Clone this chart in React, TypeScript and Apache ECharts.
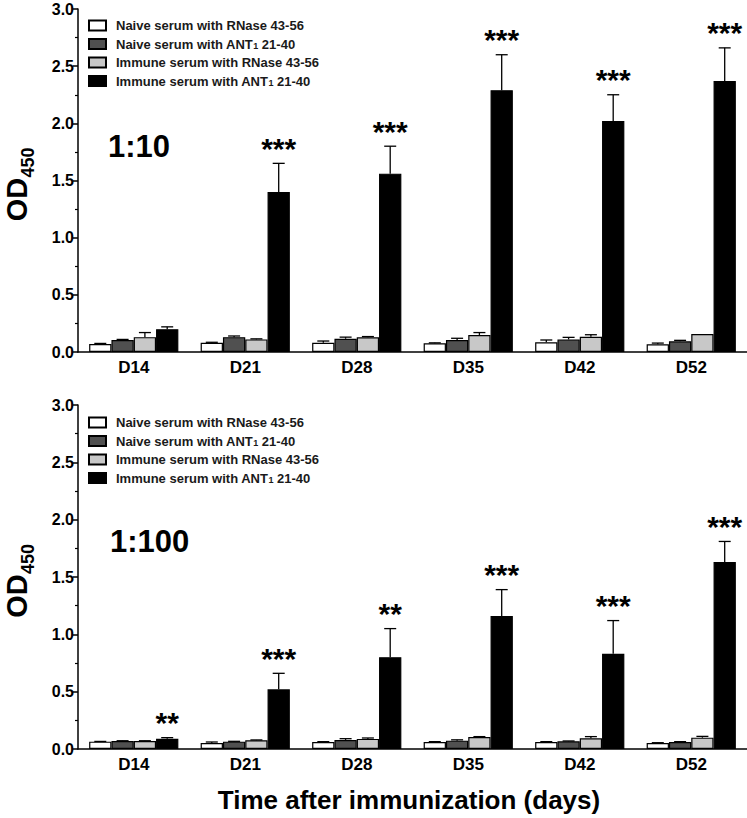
import React, { useEffect, useRef } from "react";
import * as echarts from "echarts";

const categories = ["D14", "D21", "D28", "D35", "D42", "D52"];
const seriesNames = [
  "Naive serum with RNase 43-56",
  "Naive serum with ANT1 21-40",
  "Immune serum with RNase 43-56",
  "Immune serum with ANT1 21-40",
];
const legendLabels = [
  "Naive serum with RNase 43-56",
  "Naive serum with ANT{sub|1} 21-40",
  "Immune serum with RNase 43-56",
  "Immune serum with ANT{sub|1} 21-40",
];
const barColors = ["#ffffff", "#505050", "#c8c8c8", "#000000"];
const yTicks = [0, 0.5, 1.0, 1.5, 2.0, 2.5, 3.0];

// 1:10 dilution (mean and upper error bar end)
const naiveRNase10 = [0.07, 0.08, 0.08, 0.076, 0.085, 0.067];
const naiveRNase10Top = [0.075, 0.085, 0.096, 0.08, 0.105, 0.078];
const naiveANT10 = [0.105, 0.13, 0.116, 0.105, 0.11, 0.093];
const naiveANT10Top = [0.11, 0.14, 0.13, 0.12, 0.128, 0.102];
const immuneRNase10 = [0.13, 0.11, 0.128, 0.149, 0.134, 0.157];
const immuneRNase10Top = [0.17, 0.115, 0.135, 0.17, 0.151, 0.157];
const immuneANT10 = [0.2, 1.4, 1.56, 2.29, 2.02, 2.37];
const immuneANT10Top = [0.22, 1.65, 1.8, 2.6, 2.25, 2.66];
const stars10 = ["", "***", "***", "***", "***", "***"];

// 1:100 dilution
const naiveRNase100 = [0.064, 0.052, 0.061, 0.061, 0.061, 0.052];
const naiveRNase100Top = [0.066, 0.061, 0.064, 0.064, 0.064, 0.055];
const naiveANT100 = [0.07, 0.064, 0.079, 0.073, 0.067, 0.061];
const naiveANT100Top = [0.072, 0.067, 0.09, 0.08, 0.07, 0.064];
const immuneRNase100 = [0.07, 0.076, 0.088, 0.105, 0.093, 0.099];
const immuneRNase100Top = [0.072, 0.079, 0.096, 0.108, 0.108, 0.11];
const immuneANT100 = [0.09, 0.52, 0.8, 1.16, 0.83, 1.63];
const immuneANT100Top = [0.099, 0.66, 1.05, 1.39, 1.12, 1.81];
const stars100 = ["**", "***", "**", "***", "***", "***"];

const FONT = "'Liberation Sans', Arial, Helvetica, sans-serif";

const panels = [
  {
    suffix: "",
    means: [naiveRNase10, naiveANT10, immuneRNase10, immuneANT10],
    tops: [naiveRNase10Top, naiveANT10Top, immuneRNase10Top, immuneANT10Top],
    stars: stars10,
    dilution: "1:10",
  },
  {
    suffix: " (1:100)",
    means: [naiveRNase100, naiveANT100, immuneRNase100, immuneANT100],
    tops: [naiveRNase100Top, naiveANT100Top, immuneRNase100Top, immuneANT100Top],
    stars: stars100,
    dilution: "1:100",
  },
];

const grids = [
  { left: 78, top: 9, width: 669, height: 343 },
  { left: 78, top: 405, width: 669, height: 344 },
];

export default function App() {
  const ref = useRef<HTMLDivElement>(null);

  useEffect(() => {
    document.body.style.margin = "0";
    if (!ref.current) return;
    const chart = echarts.init(ref.current, null, { renderer: "svg" });

    const series: any[] = [];
    panels.forEach((p, pi) => {
      p.means.forEach((vals, k) => {
        series.push({
          type: "bar",
          name: seriesNames[k] + p.suffix,
          xAxisIndex: pi,
          yAxisIndex: pi,
          data: vals,
          barGap: "0%",
          barCategoryGap: "20%",
          itemStyle: { color: barColors[k], borderColor: "#000", borderWidth: 1.2 },
          z: 2,
        });
      });
      p.means.forEach((vals, k) => {
        const tops = p.tops[k];
        series.push({
          type: "custom",
          xAxisIndex: pi,
          yAxisIndex: pi,
          z: 3,
          silent: true,
          data: vals.map((v, i) => [i, v, tops[i]]),
          renderItem: (params: any, api: any) => {
            const idx = api.value(0);
            const val = api.value(1);
            const top = api.value(2);
            const base = api.coord([idx, val]);
            const tp = api.coord([idx, top]);
            const catW = api.size([1, 0])[0];
            const bw = (catW * 0.8) / 4;
            const x = base[0] + (k - 1.5) * bw;
            const children: any[] = [];
            if (top > val) {
              children.push({
                type: "line",
                shape: { x1: x, y1: base[1], x2: x, y2: tp[1] },
                style: { stroke: "#000", lineWidth: 1.3 },
              });
              children.push({
                type: "line",
                shape: { x1: x - 6, y1: tp[1], x2: x + 6, y2: tp[1] },
                style: { stroke: "#000", lineWidth: 1.3 },
              });
            }
            if (k === 3) {
              const s = p.stars[params.dataIndex];
              if (s) {
                children.push({
                  type: "text",
                  x: x,
                  y: tp[1] - 15,
                  style: {
                    text: s,
                    align: "center",
                    verticalAlign: "middle",
                    fontSize: 30,
                    fontWeight: "bold",
                    fontFamily: FONT,
                    fill: "#000",
                  },
                });
              }
            }
            return { type: "group", children };
          },
        });
      });
    });

    const legends = panels.map((p, pi) => ({
      data: seriesNames.map((n) => n + p.suffix),
      orient: "vertical",
      left: 83,
      top: pi === 0 ? 14 : 411,
      itemWidth: 17,
      itemHeight: 10,
      itemGap: 5.5,
      selectedMode: false,
      icon: "rect",
      formatter: (name: string) => {
        const base = name.replace(" (1:100)", "");
        return legendLabels[seriesNames.indexOf(base)];
      },
      textStyle: {
        fontSize: 13,
        fontWeight: "bold",
        fontFamily: FONT,
        color: "#1a1a1a",
        padding: [0, 0, 0, 5],
        rich: {
          sub: {
            fontSize: 9,
            fontWeight: "bold",
            fontFamily: FONT,
            color: "#1a1a1a",
            verticalAlign: "bottom",
            lineHeight: 6,
          },
        },
      },
    }));

    const graphics: any[] = [];
    panels.forEach((p, pi) => {
      const g = grids[pi];
      const cy = g.top + g.height / 2;
      graphics.push({
        type: "text",
        x: 17,
        y: cy + 19,
        rotation: Math.PI / 2,
        style: {
          text: "OD",
          align: "center",
          verticalAlign: "middle",
          fontSize: 29,
          fontWeight: "bold",
          fontFamily: FONT,
          fill: "#000",
        },
      });
      graphics.push({
        type: "text",
        x: 28,
        y: cy - 18,
        rotation: Math.PI / 2,
        style: {
          text: "450",
          align: "center",
          verticalAlign: "middle",
          fontSize: 18,
          fontWeight: "bold",
          fontFamily: FONT,
          fill: "#000",
        },
      });
      graphics.push({
        type: "text",
        x: pi === 0 ? 108 : 110,
        y: pi === 0 ? 146 : 541,
        style: {
          text: p.dilution,
          align: "left",
          verticalAlign: "middle",
          fontSize: 31,
          fontWeight: "bold",
          fontFamily: FONT,
          fill: "#000",
        },
      });
    });
    graphics.push({
      type: "text",
      x: 409,
      y: 800,
      style: {
        text: "Time after immunization (days)",
        align: "center",
        verticalAlign: "middle",
        fontSize: 26,
        fontWeight: "bold",
        fontFamily: FONT,
        fill: "#000",
      },
    });

    chart.setOption({
      animation: false,
      backgroundColor: "#fff",
      grid: grids,
      legend: legends,
      xAxis: grids.map((_, i) => ({
        type: "category",
        gridIndex: i,
        data: categories,
        axisLine: { lineStyle: { color: "#000", width: 1.5 } },
        axisTick: { show: false },
        axisLabel: { fontSize: 17, fontWeight: "bold", fontFamily: FONT, color: "#000", margin: 7 },
      })),
      yAxis: grids.map((_, i) => ({
        type: "value",
        gridIndex: i,
        min: yTicks[0],
        max: yTicks[yTicks.length - 1],
        interval: 0.5,
        splitLine: { show: false },
        axisLine: { show: true, lineStyle: { color: "#000", width: 1.5 } },
        axisTick: { show: true, length: 5, lineStyle: { color: "#000", width: 1.5 } },
        minorTick: { show: true, splitNumber: 2, length: 3, lineStyle: { color: "#000", width: 1.2 } },
        axisLabel: {
          fontSize: 16,
          fontWeight: "bold",
          fontFamily: FONT,
          color: "#000",
          margin: 4,
          formatter: (v: number) => v.toFixed(1),
        },
      })),
      series,
      graphic: graphics,
    });

    return () => chart.dispose();
  }, []);

  return <div ref={ref} style={{ width: 747, height: 818 }} />;
}
